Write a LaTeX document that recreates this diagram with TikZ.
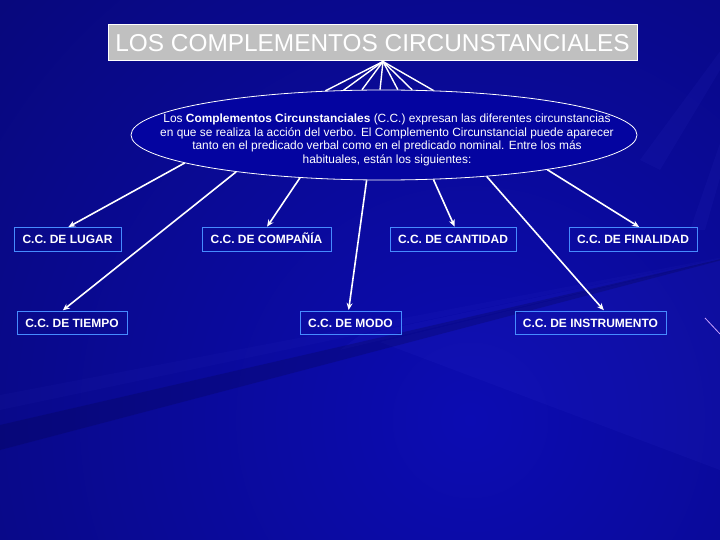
\documentclass[tikz,border=0pt]{standalone}
\usepackage{fontspec}
\setmainfont{Liberation Sans}
\usetikzlibrary{shapes.geometric,arrows.meta}
\definecolor{bgdark}{RGB}{4,4,72}
\definecolor{bgbright}{RGB}{12,12,178}
\definecolor{ellfill}{RGB}{4,4,160}
\definecolor{boxline}{RGB}{70,140,255}
\definecolor{titlegray}{RGB}{192,192,192}
\definecolor{raycol}{RGB}{70,70,230}
\definecolor{pinkline}{RGB}{200,160,255}
\begin{document}
\begin{tikzpicture}[x=1pt,y=-1pt,
  ccbox/.style={draw=boxline,line width=1pt,text=white,
    font=\bfseries\fontsize{12}{13}\selectfont,inner sep=0pt,minimum height=23pt,
    text height=8.6pt,text depth=0pt},
  link/.style={white,line width=1.6pt},
  arrowlink/.style={link,-{Stealth[length=7pt,width=6pt]},shorten >=1pt}]
% background
\useasboundingbox (0,0) rectangle (720,540);
\begin{scope}
  \clip (0,0) rectangle (720,540);
  \shade[inner color=bgbright,outer color=bgdark] (470,420) circle (1250);
  \fill[raycol,opacity=0.08] (760,250) -- (360,335) -- (340,350) -- cycle;
  \fill[raycol,opacity=0.08] (760,250) -- (380,342) -- (720,470) -- cycle;
  \fill[bgdark,opacity=0.25] (760,250) -- (0,425) -- (0,450) -- cycle;
  \fill[raycol,opacity=0.05] (760,250) -- (0,395) -- (0,410) -- cycle;
  \fill[raycol,opacity=0.07] (780,-30) -- (560,0) -- (600,0) -- cycle;
  \fill[raycol,opacity=0.07] (780,-30) -- (640,160) -- (660,170) -- cycle;
  \fill[raycol,opacity=0.07] (780,-30) -- (690,230) -- (705,230) -- cycle;
  \draw[pinkline,line width=0.8pt] (705,318) -- (720,334);
\end{scope}
% title
\node[draw=white,fill=titlegray,line width=1pt,minimum width=529pt,minimum height=36pt,
  inner sep=0pt,text=white,font=\fontsize{24.4}{26}\selectfont] (title) at (372.5,43)
  {LOS COMPLEMENTOS CIRCUNSTANCIALES};
\coordinate (apex) at ([xshift=10.5pt]title.south);
% ellipse
\node[ellipse,draw=white,fill=ellfill,line width=0.8pt,minimum width=506pt,
  minimum height=90pt,inner sep=0pt] (ell) at (384,135) {};
\node[text=white,align=center,inner sep=0pt,font=\fontsize{11.9}{13.7}\selectfont]
  (elltext) at (387,140)
  {Los \textbf{Complementos Circunstanciales} (C.C.) expresan las diferentes circunstancias\\
   en que se realiza la acción del verbo. El Complemento Circunstancial puede aparecer\\
   tanto en el predicado verbal como en el predicado nominal. Entre los más\\
   habituales, están los siguientes:};
\foreach \a in {143.4,132.7,116.1,95.1,73.9,58.0,42.6}
  \draw[link,line width=1.4pt] (apex) -- (ell.\a);
% boxes
\node[ccbox,minimum width=107pt] (lugar) at (67.5,239.5) {C.C. DE LUGAR};
\node[ccbox,minimum width=129pt] (compania) at (266.5,239.5) {C.C. DE COMPAÑÍA};
\node[ccbox,minimum width=126pt] (cantidad) at (453,239.5) {C.C. DE CANTIDAD};
\node[ccbox,minimum width=128pt] (finalidad) at (633,239.5) {C.C. DE FINALIDAD};
\node[ccbox,minimum width=110pt] (tiempo) at (72,323) {C.C. DE TIEMPO};
\node[ccbox,minimum width=101pt] (modo) at (350.5,323) {C.C. DE MODO};
\node[ccbox,minimum width=151pt] (instrumento) at (590.5,323) {C.C. DE INSTRUMENTO};
% arrows
\draw[arrowlink] (ell.188.3) -- (lugar.north);
\draw[arrowlink] (ell.194.3) -- ([xshift=-10pt]tiempo.north);
\draw[arrowlink] (ell.207.1) -- (compania.north);
\draw[arrowlink] (ell.249.3) -- ([xshift=-2pt]modo.north);
\draw[arrowlink] (ell.318.6) -- ([xshift=2pt]cantidad.north);
\draw[arrowlink] (ell.338.2) -- ([xshift=14pt]instrumento.north);
\draw[arrowlink] (ell.348.6) -- ([xshift=7pt]finalidad.north);
\end{tikzpicture}
\end{document}
